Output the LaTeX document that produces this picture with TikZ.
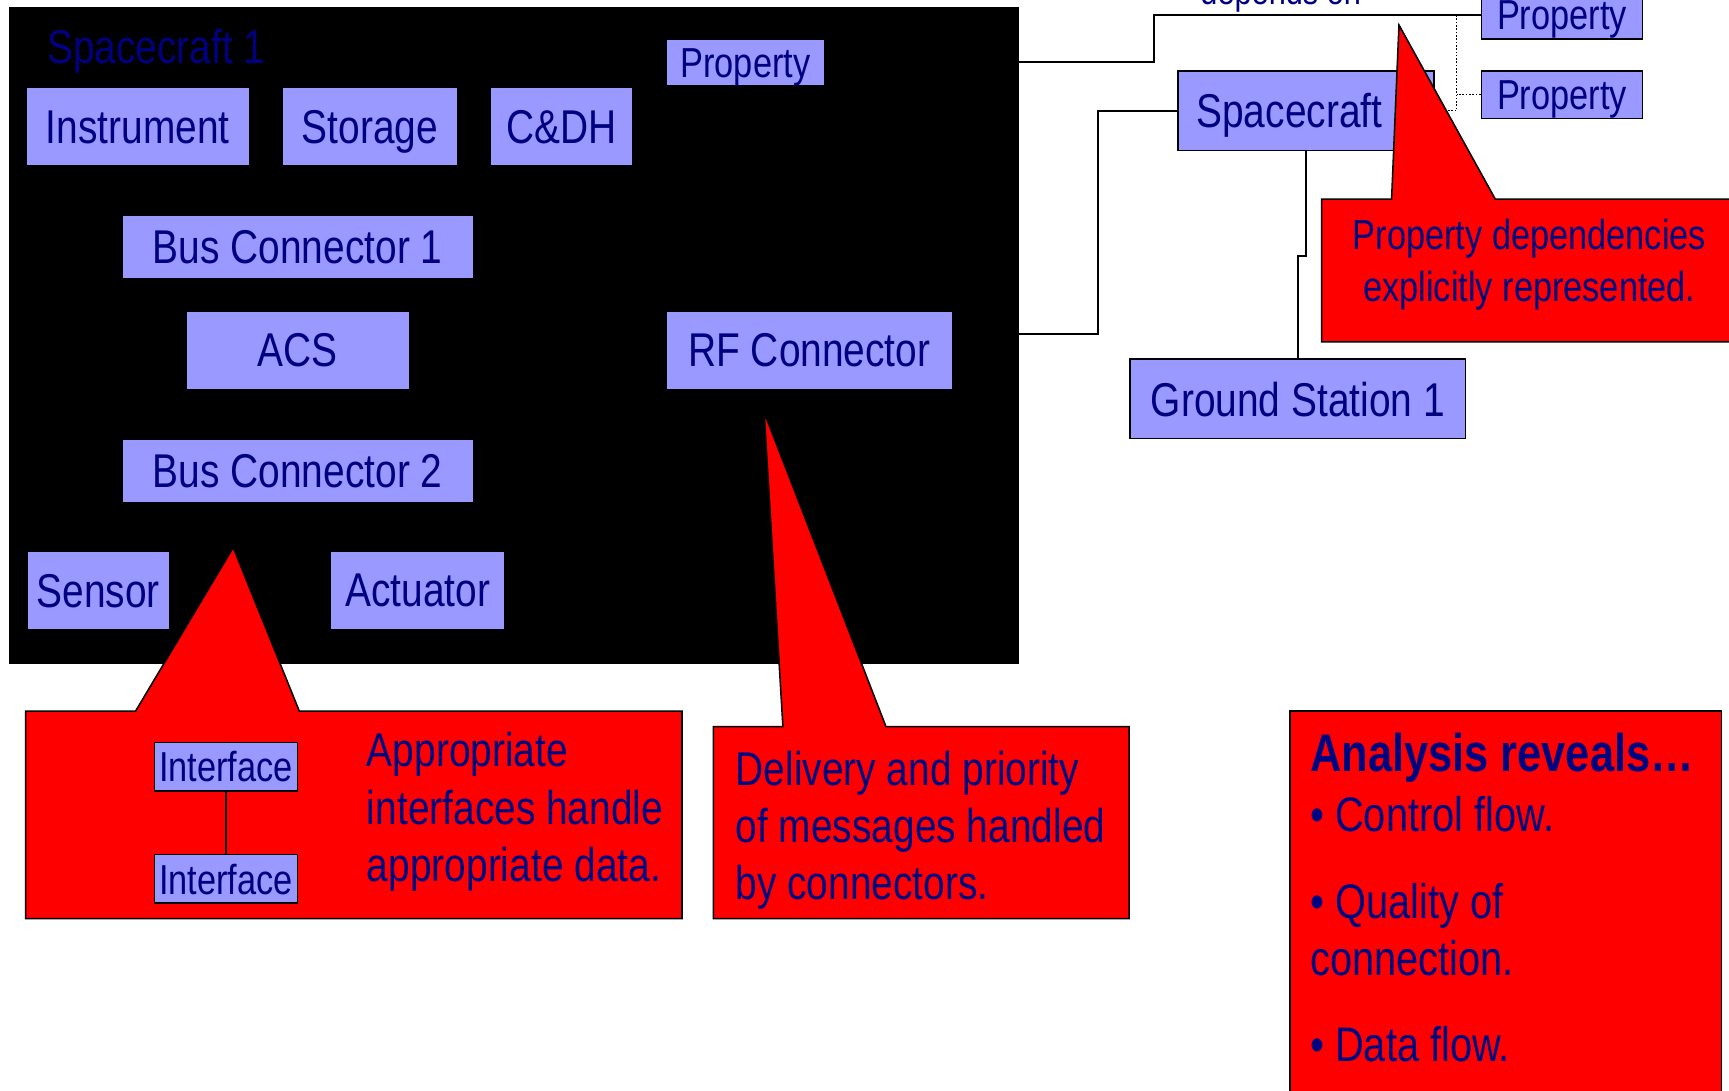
\documentclass[tikz,border=0pt]{standalone}
\usepackage{fontspec}
\setmainfont{Liberation Sans}[FakeStretch=0.82]
\definecolor{navytext}{RGB}{0,0,128}
\definecolor{partblue}{RGB}{153,153,255}
\begin{document}
\begin{tikzpicture}[x=1pt, y=-1pt, line join=miter,
	part/.style={fill=partblue, text=navytext, inner sep=0pt, text depth=0pt, font=\fontsize{43}{50}\selectfont},
	extpart/.style={part, draw=black, line width=1.6pt},
	small/.style={font=\fontsize{38}{46}\selectfont},
	wire/.style={line width=1.6pt},
	dotline/.style={line width=1.2pt, dash pattern=on 1.5pt off 1.5pt},
	callout/.style={fill=red, draw=black, line width=1.4pt},
	note/.style={text=navytext, inner sep=0pt, anchor=base west, font=\fontsize{43}{52}\selectfont}]
	\useasboundingbox (0,0) rectangle (1568,989);
	\def\rowa{115} \def\rowb{317.7} \def\rowc{535.6} % rows of parts
	% Spacecraft 1
	\node[fill=black, inner sep=0pt, minimum width=916pt, minimum height=596pt, anchor=north west] (sc1) at (8,6) {};
	\node[note] (sc1lbl) at (42.5,58) {Spacecraft 1};
	\node[part, small, minimum width=143pt, minimum height=41pt] (prop) at (676,57) {Property};
	\node[part, minimum width=201pt, minimum height=70pt] (instr) at (125,\rowa) {Instrument};
	\node[part, minimum width=158pt, minimum height=70pt] (stor) at (335.4,\rowa) {Storage};
	\node[part, minimum width=128pt, minimum height=70pt] (cdh) at (509.5,\rowa) {C\&DH};
	\node[part, minimum width=317pt, minimum height=56pt] (bus1) at (270,223.7) {Bus Connector 1};
	\node[part, minimum width=201pt, minimum height=70pt] (acs) at (270,\rowb) {ACS};
	\node[part, minimum width=259pt, minimum height=70pt] (rf) at (734,\rowb) {RF Connector};
	\node[part, minimum width=317pt, minimum height=56pt] (bus2) at (270,427) {Bus Connector 2};
	\node[part, minimum width=128pt, minimum height=70pt] (sens) at (89,\rowc) {Sensor};
	\node[part, minimum width=157pt, minimum height=70pt] (act) at (378.8,\rowc) {Actuator};
	% other side
	\node[extpart, minimum width=232pt, minimum height=72pt, text width=199pt, align=left] (scraft) at (1184.5,100.5) {Spacecraft};
	\node[extpart, small, minimum width=146pt, minimum height=43pt] (propA) at (1416.5,13.8) {Property};
	\node[extpart, small, minimum width=146pt, minimum height=43pt] (propB) at (1416.5,86) {Property};
	\node[extpart, minimum width=304pt, minimum height=72pt] (gs) at (1177,361.7) {Ground Station 1};
	\node[note, anchor=base, font=\fontsize{34}{40}\selectfont] (dep) at (1161.5,4) {depends on};
	\draw[wire] (sc1.east |- 0,56.5) -- (1046.5,56.5) |- (propA.west);
	\draw[wire] (sc1.east |- 0,303) -- (995.8,303) |- (scraft.west);
	\draw[wire] (scraft.south) -- (1184.5,232) -| (gs.north);
	\draw[dotline] (scraft.east) -| (1321,13.8);
	\draw[dotline] (propB.west) -- (1321,86);
	% callouts
	\draw[callout] (23.3,644.8) -- (123,644.8) -- (211.5,496.5) -- (271.4,644.8) -- (618.5,644.8) -- (618.5,833) -- (23.3,833) -- cycle;
	\draw[callout] (647,659) -- (710,659) -- (693,374) -- (803.5,659) -- (1024,659) -- (1024,833) -- (647,833) -- cycle;
	\draw[callout] (1198.6,180.5) -- (1262,180.5) -- (1268.7,22.7) -- (1356,180.5) -- (1600,180.5) -- (1600,310) -- (1198.6,310) -- cycle;
	\draw[callout] (1170,644.8) rectangle (1561.3,1010);
	\node[extpart, small, line width=1.4pt, minimum width=130pt, minimum height=44pt] (if1) at (205,695.4) {Interface};
	\node[extpart, small, line width=1.4pt, minimum width=130pt, minimum height=44pt] (if2) at (205,797) {Interface};
	\draw[line width=1.2pt] (if1.south) -- (if2.north);
	\foreach \txt [count=\i] in {Appropriate, interfaces handle, appropriate data.}
		\node[note] (app\i) at (332.6,{695+52.3*(\i-1)}) {\txt};
	\foreach \txt [count=\i] in {Delivery and priority, of messages handled, by connectors.}
		\node[note] (del\i) at (667,{712+51.8*(\i-1)}) {\txt};
	\foreach \txt [count=\i] in {Property dependencies, explicitly represented.}
		\node[note, anchor=base, font=\fontsize{38}{46}\selectfont] (dp\i) at (1387,{226.7+46.9*(\i-1)}) {\txt};
	\node[note, font=\bfseries\fontsize{48}{52}\selectfont] (ana) at (1188,699.8) {Analysis reveals…};
	\foreach \y/\txt [count=\i] in {754/• Control flow., 832.8/• Quality of, 884.2/connection., 962.8/• Data flow.}
		\node[note, font=\fontsize{44}{52}\selectfont] (rev\i) at (1188,\y) {\txt};
\end{tikzpicture}
\end{document}
